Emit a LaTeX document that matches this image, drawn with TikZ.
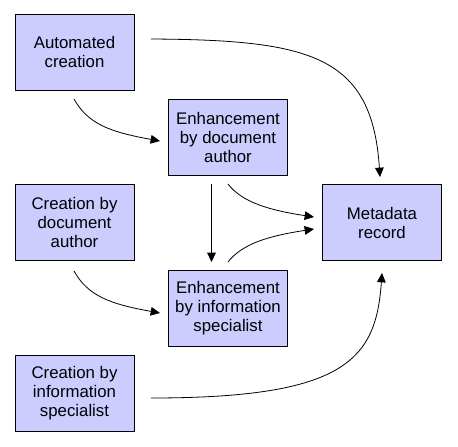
\documentclass[tikz,border=0pt]{standalone}
\usepackage{fontspec}
\setmainfont{Liberation Sans}
\usetikzlibrary{arrows.meta}
\begin{document}
\begin{tikzpicture}[x=0.75pt,y=-0.75pt,
  box/.style={draw=black,line width=0.75pt,fill=boxfill,minimum width=89.25pt,minimum height=57pt,
    align=center,inner sep=0pt,font=\fontsize{12.6}{14.25}\selectfont},
  conn/.style={line width=0.6pt,-{Triangle[length=7pt,width=6.5pt]}}]
\definecolor{boxfill}{HTML}{CCCCFF}
\useasboundingbox (0,0) rectangle (458,447);
\node[box] (auto) at (74.5,52) {Automated\\creation};
\node[box] (enhdoc) at (228,137.5) {Enhancement\\by document\\author};
\node[box] (credoc) at (74.5,222) {Creation by\\document\\author};
\node[box] (enhinf) at (228,308) {Enhancement\\by information\\specialist};
\node[box] (meta) at (382,222.5) {Metadata\\record};
\node[box] (creinf) at (74.5,393.5) {Creation by\\information\\specialist};
% connector end points
\coordinate (a1) at (151,39);   \coordinate (m1) at (380,177);
\coordinate (a2) at (74,99);    \coordinate (e1) at (160,141);
\coordinate (c1) at (74,271);   \coordinate (e2) at (160,313);
\coordinate (d1) at (211.5,184);\coordinate (i1) at (211.5,262);
\coordinate (d2) at (228,184);  \coordinate (m2) at (314,217);
\coordinate (i2) at (228,262);  \coordinate (m3) at (314,229);
\coordinate (s1) at (151,398);  \coordinate (m4) at (382,273);
\draw[conn] (a1) .. controls (310,40) and (372,55) .. (m1);
\draw[conn] (a2) .. controls (88,124) and (110,132) .. (e1);
\draw[conn] (c1) .. controls (88,296) and (110,304) .. (e2);
\draw[conn] (d1) -- (i1);
\draw[conn] (d2) .. controls (242,202) and (268,210) .. (m2);
\draw[conn] (i2) .. controls (242,244) and (268,236) .. (m3);
\draw[conn] (s1) .. controls (345,398) and (376,360) .. (m4);
\end{tikzpicture}
\end{document}
